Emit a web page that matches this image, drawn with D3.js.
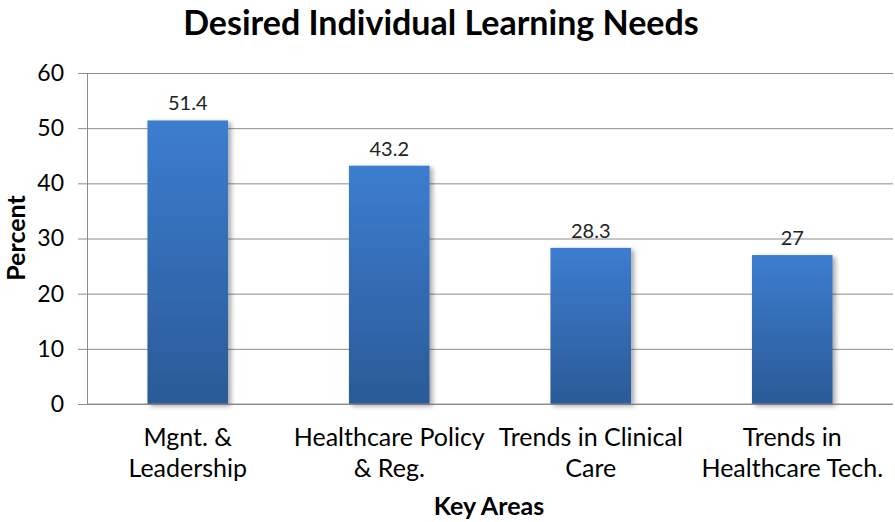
<!DOCTYPE html>
<html>
<head>
<meta charset="utf-8">
<script src="https://cdn.jsdelivr.net/npm/d3@7"></script>
<style>
  body { margin: 0; background: #fff; }
  svg text { font-family: Lato, "Open Sans", sans-serif; }
</style>
</head>
<body>
<svg id="chart" width="895" height="522"></svg>
<script>
// chart data
var categories = [["Mgnt. &", "Leadership"], ["Healthcare Policy", "& Reg."], ["Trends in Clinical", "Care"], ["Trends in", "Healthcare Tech."]];
var values = [51.4, 43.2, 28.3, 27];
var yTicks = [0, 10, 20, 30, 40, 50, 60];

var svg = d3.select("#chart"),
    margin = {top: 73, right: 2, bottom: 118, left: 87},
    width = +svg.attr("width") - margin.left - margin.right,
    height = +svg.attr("height") - margin.top - margin.bottom;

var x = d3.scaleBand().domain(d3.range(categories.length)).range([0, width]).paddingInner(0.6).paddingOuter(0.3),
    y = d3.scaleLinear().domain([0, 60]).range([height, 0]);

// gradient + shadow
var defs = svg.append("defs");
var grad = defs.append("linearGradient").attr("id", "barGrad")
    .attr("x1", 0).attr("y1", 0).attr("x2", 0).attr("y2", 1);
grad.append("stop").attr("offset", "0%").attr("stop-color", "#3c7dd0");
grad.append("stop").attr("offset", "100%").attr("stop-color", "#2b5a97");
var f = defs.append("filter").attr("id", "shadow").attr("x", "-20%").attr("y", "-20%").attr("width", "150%").attr("height", "150%");
f.append("feDropShadow").attr("dx", 3).attr("dy", 2).attr("stdDeviation", 2.5).attr("flood-color", "#000").attr("flood-opacity", 0.35);

svg.append("text")
    .attr("x", 441).attr("y", 35)
    .attr("text-anchor", "middle")
    .style("font-size", "34px").style("font-weight", "bold")
    .text("Desired Individual Learning Needs");

var g = svg.append("g").attr("transform", "translate(" + margin.left + "," + margin.top + ")");

// gridlines
g.append("g")
    .call(d3.axisLeft(y).tickValues(yTicks).tickSize(-width).tickFormat(""))
    .call(function (s) { s.select(".domain").remove(); })
    .selectAll("line").attr("stroke", "#8c8c8c");

// y axis
var yAxis = g.append("g")
    .call(d3.axisLeft(y).tickValues(yTicks).tickSize(9).tickPadding(14));
yAxis.select(".domain").attr("stroke", "#8c8c8c");
yAxis.selectAll("line").attr("stroke", "#8c8c8c");
yAxis.selectAll("text").style("font-size", "23px").attr("fill", "#000");

// bars
g.selectAll(".bar")
    .data(values)
    .enter().append("rect")
    .attr("class", "bar")
    .attr("x", function (d, i) { return x(i); })
    .attr("y", function (d) { return y(d); })
    .attr("width", x.bandwidth())
    .attr("height", function (d) { return height - y(d); })
    .attr("fill", "url(#barGrad)")
    .attr("filter", "url(#shadow)");

// value labels
g.selectAll(".val")
    .data(values)
    .enter().append("text")
    .attr("x", function (d, i) { return x(i) + x.bandwidth() / 2; })
    .attr("y", function (d) { return y(d) - 10; })
    .attr("text-anchor", "middle")
    .style("font-size", "20px").attr("fill", "#222")
    .text(function (d) { return d; });

// x axis baseline
g.append("line").attr("x1", 0).attr("x2", width).attr("y1", height).attr("y2", height).attr("stroke", "#8c8c8c");

// category labels
var cat = g.selectAll(".cat")
    .data(categories)
    .enter().append("text")
    .attr("text-anchor", "middle")
    .attr("transform", function (d, i) { return "translate(" + (x(i) + x.bandwidth() / 2) + "," + (height + 42) + ")"; })
    .style("font-size", "25px").attr("fill", "#000");
cat.selectAll("tspan")
    .data(function (d) { return d; })
    .enter().append("tspan")
    .attr("x", 0).attr("dy", function (d, i) { return i ? 31 : 0; })
    .text(function (d) { return d; });

// axis titles
svg.append("text")
    .attr("x", 489).attr("y", 515)
    .attr("text-anchor", "middle")
    .style("font-size", "25px").style("font-weight", "bold")
    .text("Key Areas");

svg.append("text")
    .attr("transform", "translate(25,238) rotate(-90)")
    .attr("text-anchor", "middle")
    .style("font-size", "25px").style("font-weight", "bold")
    .text("Percent");
</script>
</body>
</html>
